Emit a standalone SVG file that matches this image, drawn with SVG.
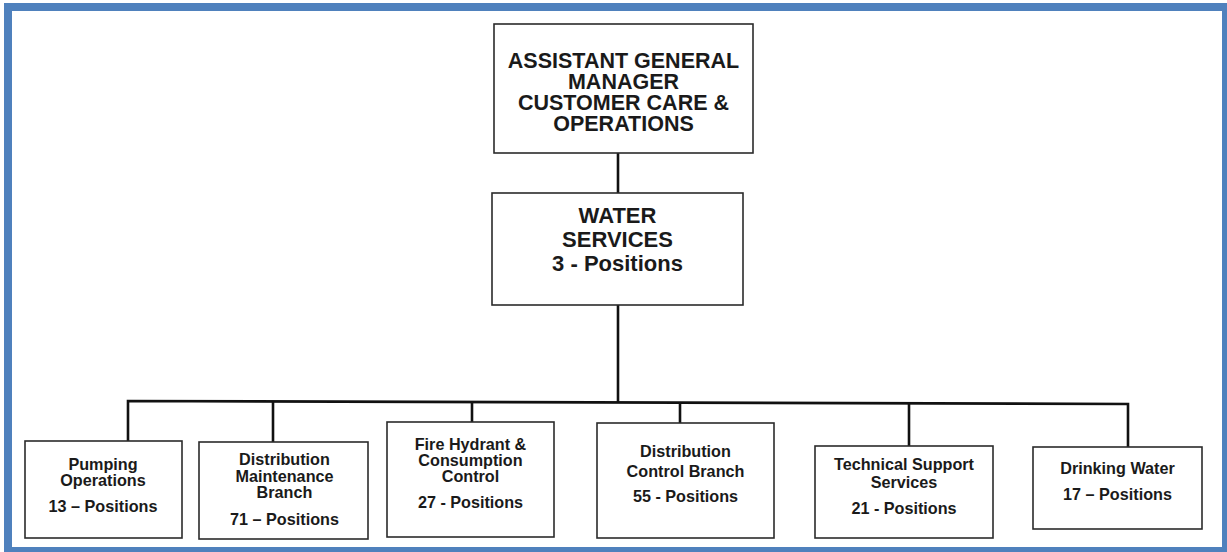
<svg xmlns="http://www.w3.org/2000/svg" width="1227" height="552" viewBox="0 0 1227 552">
<style>
.box{fill:#fff;stroke:#2b2b2b;stroke-width:1.6}
.t{font-family:"Liberation Sans",Arial,sans-serif;font-weight:bold;fill:#1a1a1a;text-anchor:middle}
.big{font-size:21.5px}
.mid{font-size:22px}
.sm{font-size:16.2px}
.c{stroke:#111;stroke-width:2.6;fill:none}
</style>
<rect x="0" y="0" width="1227" height="552" fill="#fff"/>
<rect x="8" y="7" width="1218" height="544" fill="none" stroke="#4f81bd" stroke-width="8"/>
<g id="connectors">
<line class="c" x1="618" y1="153" x2="618" y2="193"/>
<line class="c" x1="618" y1="305" x2="618" y2="402"/>
<polyline class="c" points="128,441 128,401 1128,404 1128,447"/>
<line class="c" x1="273" y1="401" x2="273" y2="442"/>
<line class="c" x1="472" y1="402" x2="472" y2="422"/>
<line class="c" x1="680" y1="402" x2="680" y2="423"/>
<line class="c" x1="909" y1="403" x2="909" y2="446"/>
</g>
<g id="agm">
<rect class="box" x="494" y="24" width="259" height="129"/>
<text class="t big" x="623.5" y="68">ASSISTANT GENERAL</text>
<text class="t big" x="623.5" y="89">MANAGER</text>
<text class="t big" x="623.5" y="110">CUSTOMER CARE &amp;</text>
<text class="t big" x="623.5" y="131">OPERATIONS</text>
</g>
<g id="water">
<rect class="box" x="492" y="193" width="251" height="112"/>
<text class="t mid" x="617.5" y="223">WATER</text>
<text class="t mid" x="617.5" y="247">SERVICES</text>
<text class="t mid" x="617.5" y="271">3 - Positions</text>
</g>
<g id="pumping">
<rect class="box" x="25" y="441" width="157" height="97"/>
<text class="t sm" x="103" y="470">Pumping</text>
<text class="t sm" x="103" y="486">Operations</text>
<text class="t sm" x="103" y="512">13 – Positions</text>
</g>
<g id="distmaint">
<rect class="box" x="199" y="442" width="169" height="97"/>
<text class="t sm" x="284.5" y="465">Distribution</text>
<text class="t sm" x="284.5" y="481.5">Maintenance</text>
<text class="t sm" x="284.5" y="498">Branch</text>
<text class="t sm" x="284.5" y="525">71 – Positions</text>
</g>
<g id="fire">
<rect class="box" x="387" y="422" width="167" height="115"/>
<text class="t sm" x="470.5" y="450">Fire Hydrant &amp;</text>
<text class="t sm" x="470.5" y="466">Consumption</text>
<text class="t sm" x="470.5" y="482">Control</text>
<text class="t sm" x="470.5" y="508">27 - Positions</text>
</g>
<g id="distctrl">
<rect class="box" x="597" y="423" width="177" height="115"/>
<text class="t sm" x="685.5" y="457">Distribution</text>
<text class="t sm" x="685.5" y="477">Control Branch</text>
<text class="t sm" x="685.5" y="502">55 - Positions</text>
</g>
<g id="tech">
<rect class="box" x="815" y="446" width="178" height="92"/>
<text class="t sm" x="904" y="470">Technical Support</text>
<text class="t sm" x="904" y="487.5">Services</text>
<text class="t sm" x="904" y="513.5">21 - Positions</text>
</g>
<g id="drinking">
<rect class="box" x="1033" y="447" width="169" height="82"/>
<text class="t sm" x="1117.5" y="473.5">Drinking Water</text>
<text class="t sm" x="1117.5" y="500">17 – Positions</text>
</g>
</svg>
